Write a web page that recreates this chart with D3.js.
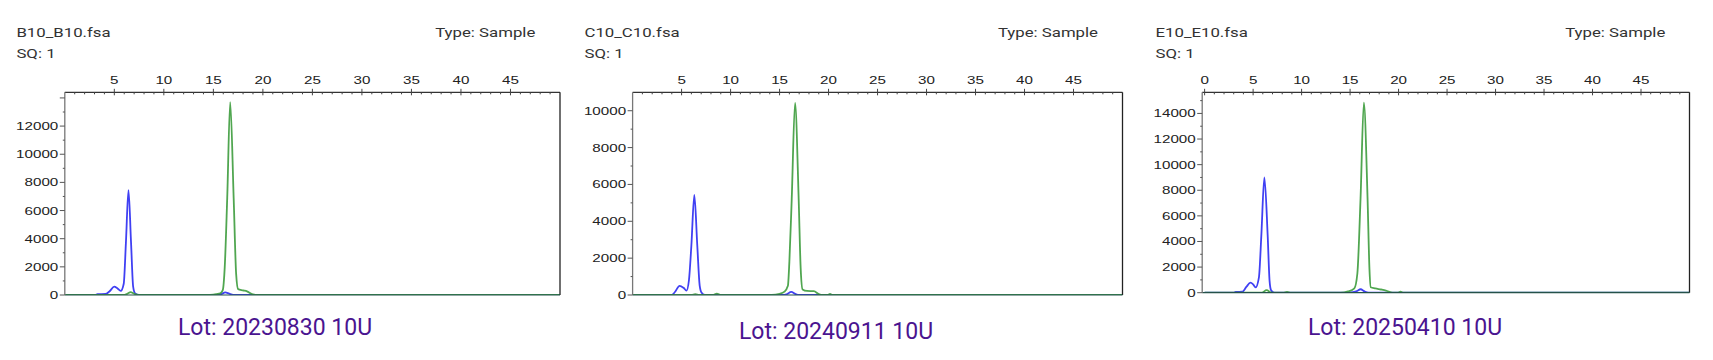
<!DOCTYPE html>
<html><head><meta charset="utf-8">
<script src="https://cdn.jsdelivr.net/npm/d3@7"></script>
<style>body{margin:0;background:#fff;} svg{display:block}</style>
</head><body>
<svg id="c" width="1713" height="360"></svg>
<script>
// ---------- data ----------
const sampleNames = ["B10_B10.fsa", "C10_C10.fsa", "E10_E10.fsa"];
const sqLabels = ["SQ: 1", "SQ: 1", "SQ: 1"];
const typeLabels = ["Type: Sample", "Type: Sample", "Type: Sample"];
const lotLabels = ["Lot: 20230830 10U", "Lot: 20240911 10U", "Lot: 20250410 10U"];
const sizeLabelTicks = [[5,10,15,20,25,30,35,40,45],[5,10,15,20,25,30,35,40,45],[0,5,10,15,20,25,30,35,40,45]];
const rfuLabelTicks = [[0,2000,4000,6000,8000,10000,12000],[0,2000,4000,6000,8000,10000],[0,2000,4000,6000,8000,10000,12000,14000]];
const sizeDomains = [[0,50],[0,50],[-0.25,50]];
const rfuDomains = [[0,14400],[0,11000],[0,15650]];

const blueB10 = [[0,0],[3.1,0],[3.3,60],[4.1,70],[4.5,250],[5.0,590],[5.3,480],[5.65,290],[5.95,800],[6.17,3700],[6.43,7450],[6.69,3700],[6.9,600],[7.1,120],[7.5,0],[15.4,0],[15.8,60],[16.2,180],[16.6,90],[17.0,10],[17.5,0],[50,0]];
const greenB10 = [[0,0],[5.9,0],[6.3,80],[6.65,200],[7.0,90],[7.4,0],[14.3,0],[15.0,30],[15.7,120],[15.95,350],[16.15,2000],[16.4,6900],[16.7,13700],[17.05,6900],[17.3,1500],[17.5,420],[18.0,330],[18.4,260],[18.9,60],[19.3,0],[50,0]];
const blueC10 = [[0,0],[4.0,0],[4.3,150],[4.8,500],[5.2,390],[5.5,240],[5.75,800],[6.0,2700],[6.3,5430],[6.6,2700],[6.85,500],[7.05,120],[7.4,0],[15.3,0],[15.7,40],[16.2,170],[16.6,60],[17.0,0],[50,0]];
const greenC10 = [[0,0],[6.0,0],[6.4,40],[6.8,0],[8.2,0],[8.6,80],[9.0,0],[14.2,0],[15.0,60],[15.5,180],[15.85,500],[16.0,1800],[16.24,5200],[16.58,10420],[16.95,5200],[17.15,1500],[17.35,300],[17.8,220],[18.5,210],[19.0,50],[19.4,0],[19.9,0],[20.15,60],[20.4,0],[50,0]];
const blueE10 = [[0,0],[3.0,0],[3.2,60],[3.9,80],[4.3,450],[4.73,780],[5.0,650],[5.26,420],[5.6,1200],[5.85,4500],[6.16,9000],[6.5,4500],[6.7,900],[6.85,200],[7.2,0],[14.8,0],[15.3,40],[15.7,120],[16.08,270],[16.5,100],[16.9,10],[17.4,0],[50,0]];
const greenE10 = [[0,0],[5.9,0],[6.39,200],[6.9,0],[8.1,0],[8.5,60],[8.9,0],[14.0,0],[14.8,100],[15.44,340],[15.75,1500],[16.08,7400],[16.42,14840],[16.8,7400],[17.0,1800],[17.13,420],[17.6,330],[18.2,250],[18.7,170],[19.4,0],[19.9,0],[20.2,80],[20.5,0],[50,0]];
const blueSeries = [blueB10, blueC10, blueE10];
const greenSeries = [greenB10, greenC10, greenE10];

// ---------- layout ----------
const panels = [
  {x0:64.8, x1:560, y0:92.3, y1:295, nameX:16.4, typeX:535.3, lotX:275, lotY:335},
  {x0:632.6, x1:1122.5, y0:92.3, y1:295, nameX:584.5, typeX:1098, lotX:836, lotY:339},
  {x0:1202.2, x1:1689.5, y0:92.3, y1:292.7, nameX:1155.5, typeX:1665.3, lotX:1405, lotY:335}
];
const HEAD_SX = 1.4, TICK_SX = 1.32, LOT_SX = 1.0;

const svg = d3.select("#c");

function stretchedText(parent, x, y, sx, txt, anchor, font, size, color) {
  const g = parent.append("g").attr("transform", `translate(${x},${y}) scale(${sx},1)`);
  g.append("text").attr("x", 0).attr("y", 0)
    .attr("text-anchor", anchor)
    .attr("font-family", font).attr("font-size", size)
    .attr("fill", color).text(txt);
  return g;
}

panels.forEach((p, i) => {
  const g = svg.append("g");
  const x = d3.scaleLinear().domain(sizeDomains[i]).range([p.x0, p.x1]);
  const y = d3.scaleLinear().domain(rfuDomains[i]).range([p.y1, p.y0]);

  // header
  stretchedText(g, p.nameX, 37, HEAD_SX, sampleNames[i], "start", "Roboto", 12, "#333");
  stretchedText(g, p.nameX, 57.5, HEAD_SX, sqLabels[i], "start", "Roboto", 12, "#333");
  stretchedText(g, p.typeX, 37, HEAD_SX, typeLabels[i], "end", "Roboto", 12, "#333");

  // series
  const line = d3.line().x(d => x(d[0])).y(d => y(d[1])).curve(d3.curveMonotoneX);
  const clipId = "clip" + i;
  g.append("clipPath").attr("id", clipId).append("rect")
    .attr("x", p.x0).attr("y", p.y0 - 2).attr("width", p.x1 - p.x0).attr("height", p.y1 - p.y0 + 2);
  const plot = g.append("g").attr("clip-path", `url(#${clipId})`);
  plot.append("path").datum(blueSeries[i]).attr("d", line)
    .attr("fill", "none").attr("stroke", "#2b2bf2").attr("stroke-width", 1.8).attr("stroke-opacity", 0.9).attr("stroke-linejoin", "round");
  plot.append("path").datum(greenSeries[i]).attr("d", line)
    .attr("fill", "none").attr("stroke", "#3d9c3d").attr("stroke-width", 1.8).attr("stroke-opacity", 0.9).attr("stroke-linejoin", "round");

  // frame
  g.append("line").attr("x1", p.x0).attr("x2", p.x1).attr("y1", p.y0).attr("y2", p.y0).attr("stroke", "#333").attr("stroke-width", 1.3);
  g.append("line").attr("x1", p.x1).attr("x2", p.x1).attr("y1", p.y0).attr("y2", p.y1).attr("stroke", "#222").attr("stroke-width", 1.3);
  g.append("line").attr("x1", p.x0).attr("x2", p.x1).attr("y1", p.y1).attr("y2", p.y1).attr("stroke", "#25524a").attr("stroke-width", 1.2);
  g.append("line").attr("x1", p.x0).attr("x2", p.x0).attr("y1", p.y0).attr("y2", p.y1).attr("stroke", "#777").attr("stroke-width", 1.3);

  // x ticks (top axis)
  const xd = sizeDomains[i];
  d3.range(Math.ceil(xd[0]), Math.floor(xd[1]) + 1).forEach(v => {
    if (v <= xd[0] || v >= xd[1]) return;
    const major = v % 5 === 0;
    g.append("line").attr("x1", x(v)).attr("x2", x(v))
      .attr("y1", major ? p.y0 - 3.5 : p.y0).attr("y2", major ? p.y0 + 3 : p.y0 + 2)
      .attr("stroke", "#444").attr("stroke-width", 1);
  });
  sizeLabelTicks[i].forEach(v => {
    stretchedText(g, x(v), 84, TICK_SX, String(v), "middle", "Liberation Sans", 11.5, "#222");
  });

  // y ticks (left axis)
  const yd = rfuDomains[i];
  d3.range(1000, yd[1], 1000).forEach(v => {
    const major = v % 2000 === 0;
    g.append("line").attr("x1", major ? p.x0 - 5 : p.x0 - 2).attr("x2", p.x0)
      .attr("y1", y(v)).attr("y2", y(v)).attr("stroke", "#555").attr("stroke-width", 1);
  });
  g.append("line").attr("x1", p.x0 - 5).attr("x2", p.x0).attr("y1", y(0)).attr("y2", y(0)).attr("stroke", "#555");
  rfuLabelTicks[i].forEach(v => {
    stretchedText(g, p.x0 - 6.5, y(v) + 4, TICK_SX, String(v), "end", "Liberation Sans", 11.5, "#222");
  });

  // lot label
  stretchedText(g, p.lotX, p.lotY, LOT_SX, lotLabels[i], "middle", "Roboto", 23, "#4a1490");
});
</script>
</body></html>
